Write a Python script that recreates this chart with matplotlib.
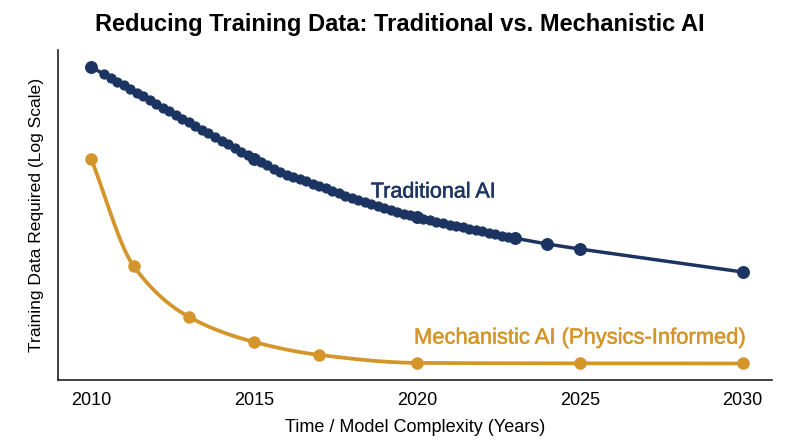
import numpy as np
import matplotlib
matplotlib.use("Agg")
import matplotlib.pyplot as plt
import matplotlib.patheffects as pe

# ---- data ----
trad_years = [2010, 2015, 2020, 2023, 2024, 2025, 2030]
trad_values = [1_000_000, 100_000, 23_400, 13_800, 11_900, 10_500, 5_910]

trad_dense_years = [2010.4, 2010.6, 2010.8, 2011.0, 2011.2, 2011.4, 2011.6, 2011.8,
                    2012.0, 2012.2, 2012.4, 2012.6, 2012.8, 2013.0, 2013.2, 2013.4,
                    2013.6, 2013.8, 2014.0, 2014.2, 2014.4, 2014.6, 2014.8, 2015.0,
                    2015.2, 2015.4, 2015.6, 2015.8, 2016.0, 2016.2, 2016.4, 2016.6,
                    2016.8, 2017.0, 2017.2, 2017.4, 2017.6, 2017.8, 2018.0, 2018.2,
                    2018.4, 2018.6, 2018.8, 2019.0, 2019.2, 2019.4, 2019.6, 2019.8,
                    2020.0, 2020.2, 2020.4, 2020.6, 2020.8, 2021.0, 2021.2, 2021.4,
                    2021.6, 2021.8, 2022.0, 2022.2, 2022.4, 2022.6, 2022.8]
trad_dense_values = [832_000, 759_000, 692_000, 631_000, 575_000, 525_000, 479_000, 437_000,
                     398_000, 363_000, 331_000, 302_000, 275_000, 251_000, 229_000, 209_000,
                     191_000, 174_000, 158_000, 145_000, 132_000, 120_000, 110_000, 100_000,
                     92_300, 85_200, 78_700, 72_600, 67_000, 63_700, 60_600, 57_400,
                     54_000, 50_900, 47_900, 45_100, 42_500, 40_000, 37_700, 35_800,
                     34_100, 32_400, 30_800, 29_300, 27_900, 26_500, 25_400, 24_400,
                     23_400, 22_500, 21_600, 20_800, 20_000, 19_200, 18_600, 18_100,
                     17_500, 17_000, 16_500, 15_800, 15_200, 14_700, 14_300]

mech_years = [2010, 2011.3, 2013, 2015, 2017, 2020, 2025, 2030]
mech_values = [100_000, 6_870, 1_920, 1_025, 741, 607, 600, 598]

x_ticks = [2010, 2015, 2020, 2025, 2030]

NAVY = "#1c3461"
GOLD = "#d4962a"

plt.rcParams["font.family"] = ["Liberation Sans", "DejaVu Sans"]


def pchip(x, y, xs):
    x = np.asarray(x, float)
    y = np.asarray(y, float)
    h = np.diff(x)
    d = np.diff(y) / h
    n = len(x)
    m = np.zeros(n)
    for k in range(1, n - 1):
        if d[k - 1] * d[k] <= 0:
            m[k] = 0.0
        else:
            w1 = 2 * h[k] + h[k - 1]
            w2 = h[k] + 2 * h[k - 1]
            m[k] = (w1 + w2) / (w1 / d[k - 1] + w2 / d[k])
    m[0] = d[0]
    m[-1] = d[-1]
    out = np.empty_like(xs)
    for i, xv in enumerate(xs):
        k = min(max(np.searchsorted(x, xv) - 1, 0), n - 2)
        t = (xv - x[k]) / h[k]
        h00 = 2 * t**3 - 3 * t**2 + 1
        h10 = t**3 - 2 * t**2 + t
        h01 = -2 * t**3 + 3 * t**2
        h11 = t**3 - t**2
        out[i] = h00 * y[k] + h10 * h[k] * m[k] + h01 * y[k + 1] + h11 * h[k] * m[k + 1]
    return out


fig = plt.figure(figsize=(8.0, 4.47), dpi=100)
ax = fig.add_axes([0.0725, 0.150, 0.8925, 0.738])

# Traditional AI
lookup = dict(zip(trad_dense_years, trad_dense_values))
lookup.update(dict(zip(trad_years, trad_values)))
all_x = sorted(lookup)
ax.plot(all_x, [lookup[v] for v in all_x], color=NAVY, lw=2.5, zorder=3)
ax.plot(trad_dense_years, trad_dense_values, "o", color=NAVY, ms=6.4, zorder=4)
ax.plot(trad_years, trad_values, "o", color=NAVY, ms=8.3, zorder=5)

# Mechanistic AI (smooth line through points, in log space)
xs = np.linspace(mech_years[0], mech_years[-1], 400)
ys = 10 ** pchip(mech_years, np.log10(mech_values), xs)
ax.plot(xs, ys, color=GOLD, lw=2.7, zorder=3)
ax.plot(mech_years, mech_values, "o", color=GOLD, ms=8.0, zorder=5)

ax.set_yscale("log")
ax.set_ylim(396, 1.53e6)
ax.set_xlim(2008.98, 2030.9)
ax.set_yticks([])
ax.yaxis.set_minor_locator(matplotlib.ticker.NullLocator())
ax.set_xticks(x_ticks)
ax.set_xticklabels([str(t) for t in x_ticks])
ax.tick_params(axis="x", length=0, pad=9, labelsize=13)

for s in ("top", "right"):
    ax.spines[s].set_visible(False)
for s in ("left", "bottom"):
    ax.spines[s].set_linewidth(1.2)
    ax.spines[s].set_color("#222222")

ax.set_xlabel("Time / Model Complexity (Years)", fontsize=13, labelpad=7)
ax.set_ylabel("Training Data Required (Log Scale)", fontsize=12.6, labelpad=10)

ax.text(2020.5, 43_800, "Traditional AI", color=NAVY, fontsize=15.5,
        ha="center", va="center",
        path_effects=[pe.withStroke(linewidth=0.35, foreground=NAVY)])
ax.text(2025.0, 1_130, "Mechanistic AI (Physics-Informed)", color=GOLD, fontsize=15.8,
        ha="center", va="center",
        path_effects=[pe.withStroke(linewidth=0.35, foreground=GOLD)])

fig.suptitle("Reducing Training Data: Traditional vs. Mechanistic AI",
             fontsize=17, fontweight="bold", y=0.972)

fig.savefig("out.png", dpi=100)
